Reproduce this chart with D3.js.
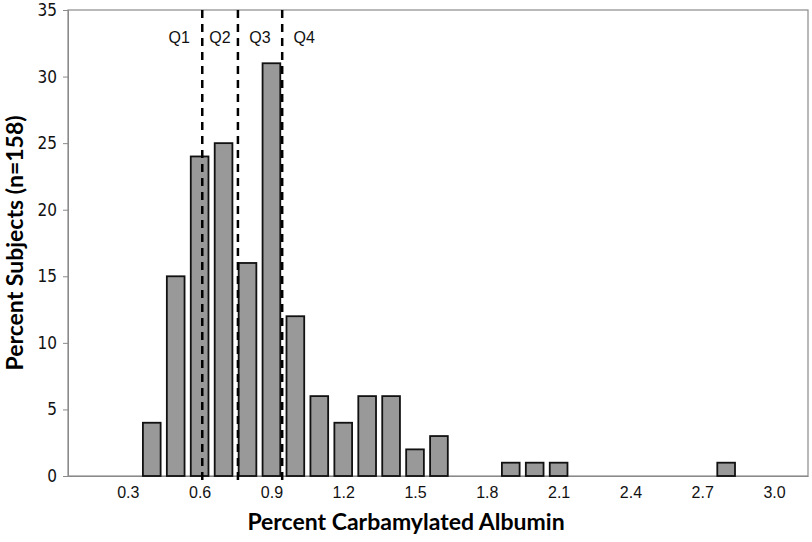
<!DOCTYPE html>
<html>
<head>
<meta charset="utf-8">
<script src="https://cdn.jsdelivr.net/npm/d3@7"></script>
<style>
  body { margin: 0; background: #fff; }
  svg { display: block; }
</style>
</head>
<body>
<svg id="chart" width="812" height="542"></svg>
<script>
// bin centres (percent carbamylated albumin) and percent of subjects
var binCenters = [0.4, 0.5, 0.6, 0.7, 0.8, 0.9, 1.0, 1.1, 1.2, 1.3, 1.4, 1.5, 1.6, 1.9, 2.0, 2.1, 2.8];
var percents   = [4, 15, 24, 25, 16, 31, 12, 6, 4, 6, 6, 2, 3, 1, 1, 1, 1];

// quartile cut points and labels
var quartileCuts = [0.611, 0.760, 0.945];
var quartileLabels = ["Q1", "Q2", "Q3", "Q4"];
var quartileLabelPos = [0.515, 0.685, 0.852, 1.037];

var xTicks = [0.3, 0.6, 0.9, 1.2, 1.5, 1.8, 2.1, 2.4, 2.7, 3.0];
var yTicks = [0, 5, 10, 15, 20, 25, 30, 35];

var data = binCenters.map(function(c, i) { return {x: c, y: percents[i]}; });

var svg = d3.select("#chart");
var plotLeft = 68, plotRight = 808, plotTop = 10, plotBottom = 476;

var x = d3.scaleLinear().domain([0.05, 3.142]).range([plotLeft, plotRight]);
var y = d3.scaleLinear().domain([0, 35]).range([plotBottom, plotTop]);
var barW = x(0.474) - x(0.4);

// plot frame
svg.append("rect")
    .attr("x", plotLeft).attr("y", plotTop)
    .attr("width", plotRight - plotLeft).attr("height", plotBottom - plotTop)
    .attr("fill", "none").attr("stroke", "#8a8a8a").attr("stroke-width", 1.2);

// y axis
var yAxis = svg.append("g")
    .attr("transform", "translate(" + plotLeft + ",0)")
    .call(d3.axisLeft(y).tickValues(yTicks).tickSize(5).tickPadding(6));
yAxis.select(".domain").attr("stroke", "#8a8a8a");
yAxis.selectAll(".tick line").attr("stroke", "#8a8a8a");
yAxis.selectAll("text")
    .style("font-family", "'Liberation Sans Narrow', 'DejaVu Sans Condensed', sans-serif")
    .style("font-size", "17px").attr("fill", "#111");

// x axis (labels only, no ticks)
var xAxis = svg.append("g")
    .attr("transform", "translate(0," + plotBottom + ")")
    .call(d3.axisBottom(x).tickValues(xTicks).tickSize(0).tickPadding(11)
        .tickFormat(d3.format(".1f")));
xAxis.select(".domain").attr("stroke", "#8a8a8a");
xAxis.selectAll("text")
    .style("font-family", "'Liberation Sans', Arial, sans-serif")
    .style("font-size", "16px").attr("fill", "#111");

// bars
svg.selectAll(".bar")
    .data(data)
    .enter().append("rect")
    .attr("class", "bar")
    .attr("x", function(d) { return x(d.x) - barW / 2; })
    .attr("y", function(d) { return y(d.y); })
    .attr("width", barW)
    .attr("height", function(d) { return y(0) - y(d.y); })
    .attr("fill", "#999999")
    .attr("stroke", "#111")
    .attr("stroke-width", 1.8);

// quartile dashed lines
svg.selectAll(".qline")
    .data(quartileCuts)
    .enter().append("line")
    .attr("x1", function(d) { return x(d); })
    .attr("x2", function(d) { return x(d); })
    .attr("y1", plotTop)
    .attr("y2", plotBottom + 8)
    .attr("stroke", "#000")
    .attr("stroke-width", 2.5)
    .attr("stroke-dasharray", "8,6");

svg.selectAll(".qlabel")
    .data(quartileLabels)
    .enter().append("text")
    .attr("x", function(d, i) { return x(quartileLabelPos[i]); })
    .attr("y", 43)
    .attr("text-anchor", "middle")
    .style("font-family", "'Liberation Sans', Arial, sans-serif")
    .style("font-size", "16px")
    .attr("fill", "#111")
    .text(function(d) { return d; });

// axis titles
svg.append("text")
    .attr("x", 406)
    .attr("y", 530)
    .attr("text-anchor", "middle")
    .style("font-family", "Lato, 'Open Sans', sans-serif")
    .style("font-weight", "bold")
    .style("font-size", "23px")
    .attr("fill", "#000")
    .text("Percent Carbamylated Albumin");

svg.append("text")
    .attr("transform", "translate(23," + 243 + ") rotate(-90)")
    .attr("text-anchor", "middle")
    .style("font-family", "Lato, 'Open Sans', sans-serif")
    .style("font-weight", "bold")
    .style("font-size", "23px")
    .attr("fill", "#000")
    .text("Percent Subjects (n=158)");
</script>
</body>
</html>
